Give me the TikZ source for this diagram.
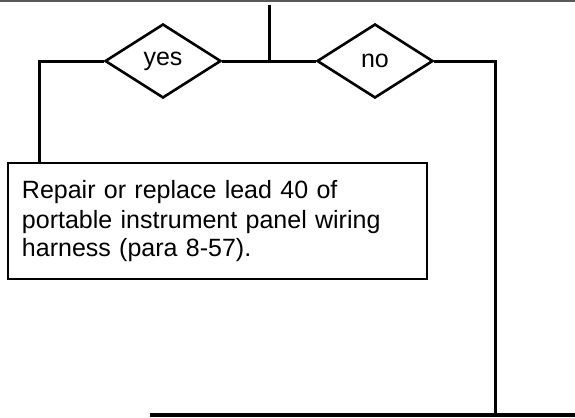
\documentclass[tikz,border=0pt]{standalone}
\usepackage{fontspec}
\setmainfont{Liberation Sans}
\usepackage{xcolor}
\definecolor{scangray}{RGB}{90, 90, 90}
\usepackage{tikz}
\usetikzlibrary{shapes.geometric, positioning, calc}

\begin{document}
\begin{tikzpicture}[x=0.5pt, y=-0.5pt,
        decision/.style={diamond, draw=black, line width=1.3pt, inner sep=0pt, minimum width=58pt, minimum height=37pt, font=\fontsize{12.5}{14}\selectfont},
        action/.style={rectangle, draw=black, line width=1.3pt, minimum width=209.5pt, minimum height=58pt, text width=195.5pt, inner xsep=7pt, align=left, font=\fontsize{12.5}{14}\selectfont},
        line/.style={draw=black, line width=1.5pt}]
        \useasboundingbox (0,0) rectangle (575,418);
        
        \draw [scangray, line width=0.8pt] (0,1) -- (575,1);
        
        \coordinate (top) at (270,5);
        \coordinate (junction) at (270,61);
        \node [decision] (yes) at (163,61) {yes};
        \node [decision] (no) at (375,61) {no};
        \coordinate (yescorner) at (40,61);
        \coordinate (nocorner) at (496,61);
        \node [action] (repair) at (217.5,221) {Repair or replace lead 40 of\\[1pt]portable instrument panel wiring\\harness (para 8-57).};
        \coordinate (bottomleft) at (150,415);
        \coordinate (bottomright) at (575,415);
        \coordinate (noend) at (496,415);
        
        \path [line] (top) -- (junction);
        \path [line] (yes.east) -- (no.west);
        \path [line] (yes.west) -- (yescorner) -- (yescorner |- repair.north);
        \path [line] (no.east) -- (nocorner) -- (noend);
        \path [line, line width=2pt] (bottomleft) -- (bottomright);
    \end{tikzpicture}
\end{document}
